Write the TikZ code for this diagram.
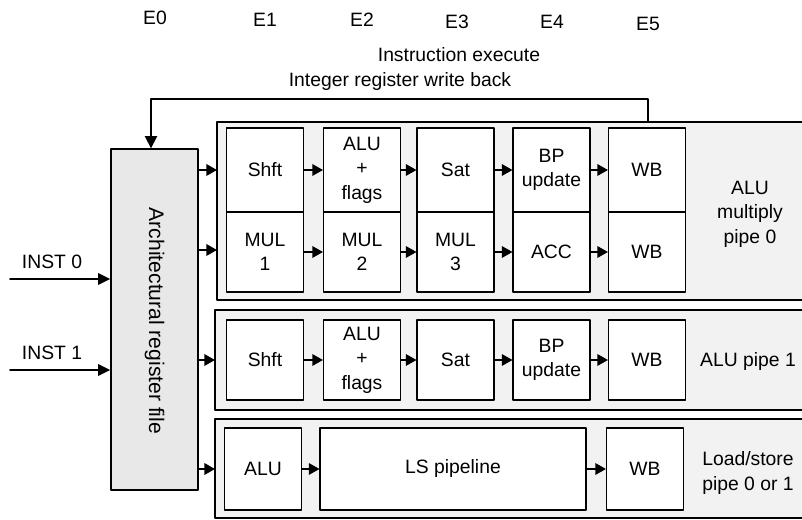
\documentclass[tikz,border=0pt]{standalone}
\usepackage{fontspec}
\setmainfont{Liberation Sans}
\usetikzlibrary{arrows.meta}
\begin{document}
\begin{tikzpicture}[line cap=round, line join=round,
    txt/.style={inner sep=1pt, font=\fontsize{11}{14}\selectfont, align=center},
    unit/.style={txt, draw, fill=white, line width=0.6pt, minimum width=1.54cm},
    pipe/.style={fill=black!5},
    frame/.style={line width=0.75pt},
    flow/.style={line width=1pt, -{Triangle[length=6pt,width=6.5pt]}}]
  \useasboundingbox (0,0) rectangle (16.04,-10.4);
  \foreach \n/\x/\y in {0/3.10/0.36, 1/5.30/0.40, 2/7.24/0.40, 3/9.14/0.44, 4/11.04/0.44, 5/12.96/0.48}
    \node[txt] (e\n) at (\x,-\y) {E\n};
  \node[txt] (exec) at (9.18,-1.10) {Instruction execute};
  \node[txt] (wback) at (8.0,-1.64) {Integer register write back};
  \fill[pipe] (4.34,-2.44) rectangle (16.04,-6.0);
  \draw[frame] (16.04,-2.44) -| (4.34,-6.0) -- (16.04,-6.0);
  \fill[pipe] (4.30,-6.20) rectangle (16.04,-8.20);
  \draw[frame] (16.04,-6.20) -| (4.30,-8.20) -- (16.04,-8.20);
  \fill[pipe] (4.30,-8.38) rectangle (16.04,-10.36);
  \draw[frame] (16.04,-8.38) -| (4.30,-10.36) -- (16.04,-10.36);
  \node[draw, frame, fill=black!9, minimum width=1.74cm, minimum height=6.82cm] (arf) at (3.09,-6.39) {};
  \node[txt, rotate=-90, font=\fontsize{12}{14}\selectfont] (arft) at (3.09,-6.42) {Architectural register file};
  \coordinate (fbR) at (12.96,-2.44);
  \coordinate (fbL) at (3.02,-1.98);
  \draw[line width=0.9pt, -{Triangle[length=7pt,width=7pt]}] (fbR) |- (fbL) -- (fbL |- arf.north);
  \node[txt] (in0) at (1.04,-5.24) {INST 0};
  \node[txt] (in1) at (1.04,-7.06) {INST 1};
  \coordinate (s0) at (0.2,-5.58);
  \coordinate (s1) at (0.2,-7.40);
  \draw[line width=1.1pt, -{Triangle[length=7pt,width=6.5pt]}] (s0) -- (s0 -| arf.west);
  \draw[line width=1.1pt, -{Triangle[length=7pt,width=6.5pt]}] (s1) -- (s1 -| arf.west);
  % ALU multiply pipe 0
  \node[unit, minimum height=1.68cm] (shft0) at (5.30,-3.40) {Shft};
  \node[unit, minimum height=1.68cm] (alu0) at (7.24,-3.40) {ALU\\+\\flags};
  \node[unit, minimum height=1.68cm] (sat0) at (9.11,-3.40) {Sat};
  \node[unit, minimum height=1.68cm] (bp0) at (11.03,-3.40) {BP\\update};
  \node[unit, minimum height=1.68cm] (wb0) at (12.94,-3.40) {WB};
  \node[unit, minimum height=1.60cm] (mul1) at (5.30,-5.04) {MUL\\1};
  \node[unit, minimum height=1.60cm] (mul2) at (7.24,-5.04) {MUL\\2};
  \node[unit, minimum height=1.60cm] (mul3) at (9.11,-5.04) {MUL\\3};
  \node[unit, minimum height=1.60cm] (acc) at (11.03,-5.04) {ACC};
  \node[unit, minimum height=1.60cm] (wb1) at (12.94,-5.04) {WB};
  \node[txt] (p0) at (15.0,-4.28) {ALU\\multiply\\pipe 0};
  % ALU pipe 1
  \node[unit, minimum height=1.60cm] (shft1) at (5.30,-7.20) {Shft};
  \node[unit, minimum height=1.60cm] (alu1) at (7.24,-7.20) {ALU\\+\\flags};
  \node[unit, minimum height=1.60cm] (sat1) at (9.11,-7.20) {Sat};
  \node[unit, minimum height=1.60cm] (bp1) at (11.03,-7.20) {BP\\update};
  \node[unit, minimum height=1.60cm] (wb2) at (12.94,-7.20) {WB};
  \node[txt] (p1) at (14.96,-7.24) {ALU pipe 1};
  % load/store
  \node[unit, minimum height=1.64cm] (alu2) at (5.26,-9.38) {ALU};
  \node[unit, minimum height=1.64cm, minimum width=5.32cm] (ls) at (9.06,-9.38) {LS pipeline};
  \node[unit, minimum height=1.64cm] (wb3) at (12.90,-9.38) {WB};
  \node[txt] (p2) at (14.96,-9.46) {Load/store\\pipe 0 or 1};
  \coordinate (r0) at (4.34,-3.40);
  \coordinate (r1) at (4.34,-5.00);
  \coordinate (r2) at (4.30,-7.20);
  \coordinate (r3) at (4.30,-9.38);
  \foreach \q in {r0,r1,r2,r3} \draw[flow] (arf.east |- \q) -- (\q);
  \foreach \a/\b in {shft0/alu0, alu0/sat0, sat0/bp0, bp0/wb0, mul1/mul2, mul2/mul3, mul3/acc, acc/wb1,
      shft1/alu1, alu1/sat1, sat1/bp1, bp1/wb2, alu2/ls, ls/wb3}
    \draw[flow] (\a) -- (\b);
\end{tikzpicture}
\end{document}
